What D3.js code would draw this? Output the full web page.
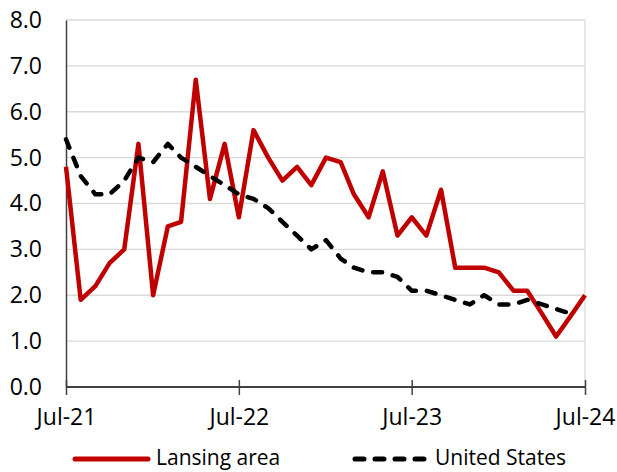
<!DOCTYPE html>
<html>
<head>
<meta charset="utf-8">
<script src="https://cdn.jsdelivr.net/npm/d3@7"></script>
<style>
  body { margin: 0; background: #fff; }
  svg { font-family: "Open Sans", sans-serif; }
</style>
</head>
<body>
<svg width="617" height="472"></svg>
<script>
// monthly values, Jul-21 .. Jul-24
var lansing = [4.8, 1.9, 2.2, 2.7, 3.0, 5.3, 2.0, 3.5, 3.6, 6.7, 4.1, 5.3,
               3.7, 5.6, 5.0, 4.5, 4.8, 4.4, 5.0, 4.9, 4.2, 3.7, 4.7, 3.3,
               3.7, 3.3, 4.3, 2.6, 2.6, 2.6, 2.5, 2.1, 2.1, 1.6, 1.1, 1.55, 2.0];
var unitedStates = [5.4, 4.6, 4.2, 4.2, 4.5, 5.0, 4.9, 5.3, 5.0, 4.8, 4.6, 4.4,
                    4.2, 4.1, 3.9, 3.6, 3.3, 3.0, 3.2, 2.8, 2.6, 2.5, 2.5, 2.4,
                    2.1, 2.1, 2.0, 1.9, 1.8, 2.0, 1.8, 1.8, 1.9, 1.8, 1.7, 1.6];
var months = d3.timeMonth.range(new Date(2021, 6, 1), new Date(2024, 7, 1));
var yTicks = [0, 1, 2, 3, 4, 5, 6, 7, 8];
var xTicks = [new Date(2021, 6, 1), new Date(2022, 6, 1), new Date(2023, 6, 1), new Date(2024, 6, 1)];

var svg = d3.select("svg"),
    margin = {top: 20, right: 32, bottom: 85, left: 66},
    width = 617 - margin.left - margin.right,
    height = 472 - margin.top - margin.bottom;

var g = svg.append("g")
    .attr("transform", "translate(" + margin.left + "," + margin.top + ")");

var x = d3.scaleTime()
    .domain([months[0], months[months.length - 1]])
    .range([0, width]);

var y = d3.scaleLinear()
    .domain([0, 8])
    .range([height, 0]);

// gridlines
g.append("g")
  .selectAll("line")
  .data(yTicks.slice(1))
  .enter().append("line")
    .attr("x1", 0)
    .attr("x2", width)
    .attr("y1", function(d) { return y(d); })
    .attr("y2", function(d) { return y(d); })
    .attr("stroke", "#d9d9d9")
    .attr("stroke-width", 1.3);

// right border
g.append("line")
    .attr("x1", width).attr("x2", width)
    .attr("y1", 0).attr("y2", height)
    .attr("stroke", "#d9d9d9")
    .attr("stroke-width", 1.3);

// y axis
var yAxis = g.append("g")
    .call(d3.axisLeft(y).tickValues(yTicks).tickSize(0).tickPadding(24).tickFormat(d3.format(".1f")));
yAxis.select(".domain").attr("stroke", "#404040").attr("stroke-width", 1.5);
yAxis.selectAll("text")
    .attr("font-size", 23)
    .attr("fill", "#000")
    .attr("font-family", "Open Sans");

// x axis
var xAxis = g.append("g")
    .attr("transform", "translate(0," + height + ")")
    .call(d3.axisBottom(x).tickValues(xTicks).tickSize(8).tickPadding(14).tickFormat(d3.timeFormat("%b-%y")));
xAxis.select(".domain").attr("stroke", "#404040").attr("stroke-width", 2).attr("d", "M0,0H" + width);
xAxis.selectAll(".tick line")
    .attr("y1", -7)
    .attr("stroke", "#404040")
    .attr("stroke-width", 1.5);
xAxis.selectAll("text")
    .attr("font-size", 23)
    .attr("fill", "#000")
    .attr("font-family", "Open Sans");

var line = d3.line()
    .x(function(d, i) { return x(months[i]); })
    .y(function(d) { return y(d); });

g.append("path")
    .datum(lansing)
    .attr("d", line)
    .attr("fill", "none")
    .attr("stroke", "#c00000")
    .attr("stroke-width", 4.5)
    .attr("stroke-linejoin", "round");

g.append("path")
    .datum(unitedStates)
    .attr("d", line)
    .attr("fill", "none")
    .attr("stroke", "#000")
    .attr("stroke-width", 4.5)
    .attr("stroke-linecap", "round")
    .attr("stroke-linejoin", "round")
    .attr("stroke-dasharray", "9,11");

// legend
var legend = svg.append("g").attr("font-size", 21);
legend.append("line")
    .attr("x1", 75).attr("x2", 148).attr("y1", 459).attr("y2", 459)
    .attr("stroke", "#c00000").attr("stroke-width", 5).attr("stroke-linecap", "round");
legend.append("text")
    .attr("x", 156).attr("y", 465)
    .text("Lansing area");
legend.append("line")
    .attr("x1", 355).attr("x2", 427).attr("y1", 459).attr("y2", 459)
    .attr("stroke", "#000").attr("stroke-width", 5).attr("stroke-linecap", "round")
    .attr("stroke-dasharray", "9,11");
legend.append("text")
    .attr("x", 435).attr("y", 465)
    .text("United States");
</script>
</body>
</html>
